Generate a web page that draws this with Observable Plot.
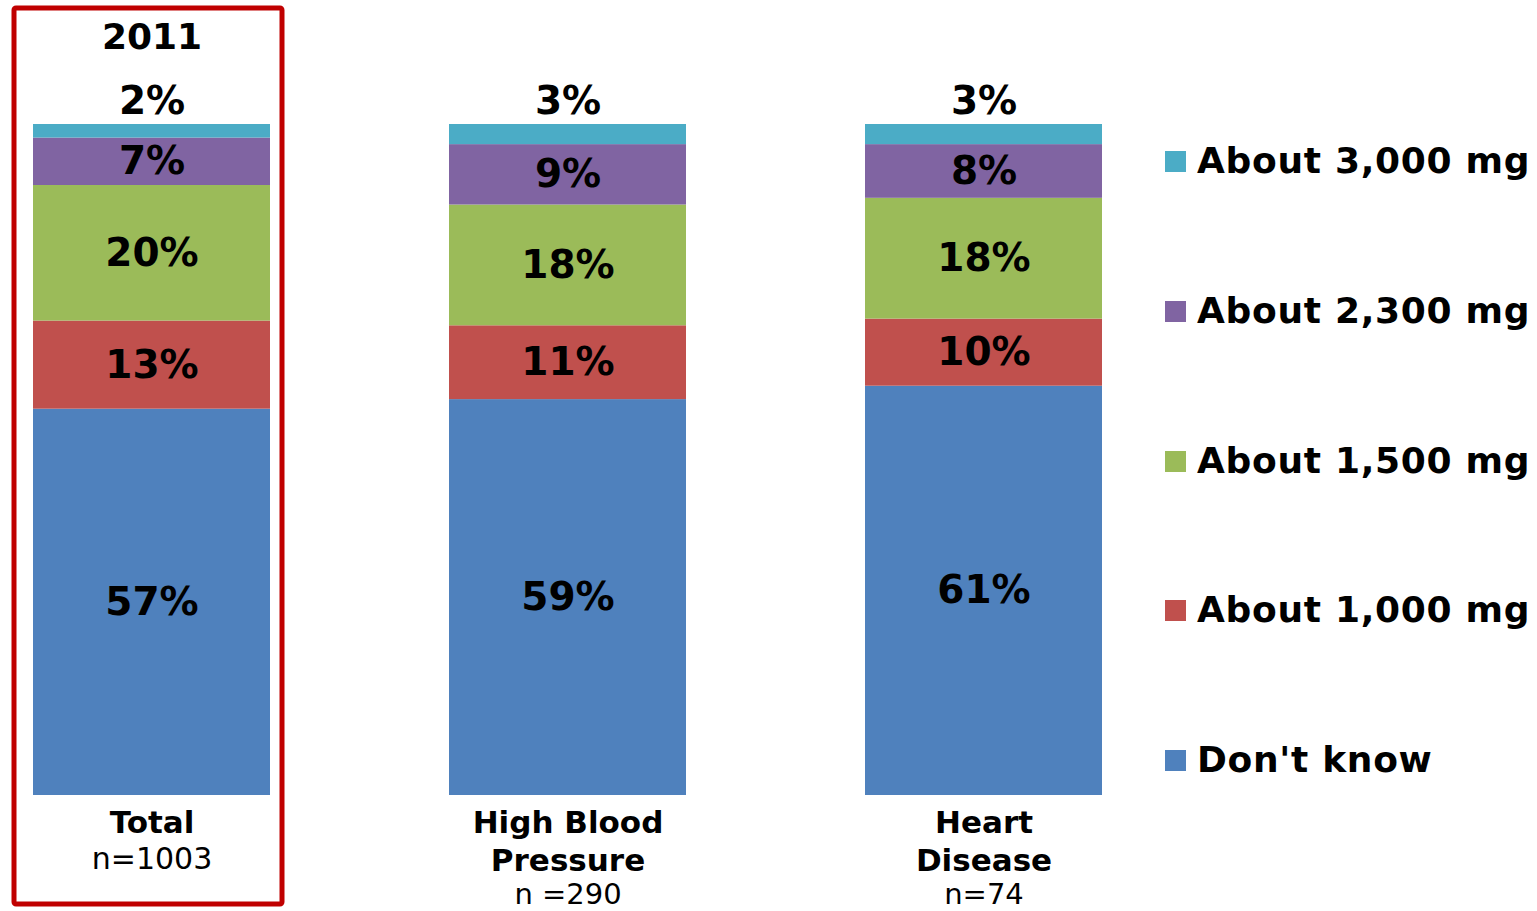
<!DOCTYPE html>
<html>
<head>
<meta charset="utf-8">
<script src="https://cdn.jsdelivr.net/npm/d3@7"></script>
<script src="https://cdn.jsdelivr.net/npm/@observablehq/plot@0.6"></script>
<style>
  html, body { margin: 0; padding: 0; background: #fff; }
  #wrap { position: relative; width: 1537px; height: 911px; overflow: hidden; font-family: "DejaVu Sans", Verdana, sans-serif; }
  #legend { position: absolute; left: 1165px; top: 0; }
  .item { position: absolute; left: 0; display: flex; align-items: center; white-space: nowrap; height: 40px; }
  .sw { width: 21px; height: 21px; margin-right: 11px; }
  .lab { font-weight: bold; font-size: 36px; color: #000; line-height: 40px; letter-spacing: 0.7px; }
</style>
</head>
<body>
<div id="wrap"></div>
<script>
// ---- data ----
const groups = ["Total", "High Blood Pressure", "Heart Disease"];
const groupNames = ["Total", "High Blood\nPressure", "Heart\nDisease"];
const groupN = ["n=1003", "n =290", "n=74"];
const categories = ["Don't know", "About 1,000 mg", "About 1,500 mg", "About 2,300 mg", "About 3,000 mg"];
const colors = ["#4F81BD", "#C0504D", "#9BBB59", "#8064A2", "#4BACC6"];
const totalValues = [57, 13, 20, 7, 2];
const hbpValues = [59, 11, 18, 9, 3];
const hdValues = [61, 10, 18, 8, 3];
const yearLabel = "2011";

const seriesByGroup = [totalValues, hbpValues, hdValues];
const data = [];
groups.forEach((g, gi) => {
  categories.forEach((c, ci) => data.push({group: g, category: c, value: seriesByGroup[gi][ci]}));
});
const topCat = categories[categories.length - 1];
const labelRows = groups.map((g, i) => ({group: g, name: groupNames[i], n: groupN[i], lines: groupNames[i].split("\n").length}));

const chart = Plot.plot({
  width: 1537,
  height: 911,
  marginTop: 124,
  marginBottom: 116,
  marginLeft: 32,
  marginRight: 434,
  x: {domain: groups, paddingInner: 0.43, paddingOuter: 0, axis: null},
  y: {domain: [0, 1], axis: null},
  color: {domain: categories, range: colors},
  style: {fontFamily: "DejaVu Sans, Verdana, sans-serif", background: "white", color: "black", overflow: "visible"},
  marks: [
    Plot.barY(data, Plot.stackY({x: "group", y: "value", fill: "category", offset: "normalize"})),
    Plot.text(data, Plot.stackY({
      x: "group", y: "value", z: "category", offset: "normalize",
      text: d => d.category === topCat ? null : d.value + "%",
      fontWeight: "bold", fontSize: 39, fill: "black"
    })),
    Plot.text(data.filter(d => d.category === topCat), {
      x: "group", text: d => d.value + "%", frameAnchor: "top", lineAnchor: "middle", dy: -23,
      fontWeight: "bold", fontSize: 39, fill: "black"
    }),
    Plot.text([groups[0]], {
      x: d => d, text: () => yearLabel, frameAnchor: "top", lineAnchor: "middle", dy: -87,
      fontWeight: "bold", fontSize: 36, fill: "black"
    }),
    // category labels
    Plot.text(labelRows, {
      x: "group", text: "name", frameAnchor: "bottom", lineAnchor: "top", dy: 10,
      lineHeight: 1.23, fontWeight: "bold", fontSize: 31, fill: "black"
    }),
    Plot.text(labelRows.filter(d => d.lines === 1), {
      x: "group", text: "n", frameAnchor: "bottom", lineAnchor: "top", dy: 52,
      fontSize: 30, fill: "black"
    }),
    Plot.text(labelRows.filter(d => d.lines === 2), {
      x: "group", text: "n", frameAnchor: "bottom", lineAnchor: "top", dy: 88,
      fontSize: 29, fill: "black"
    }),
    // red highlight box around the Total column
    Plot.barY([groups[0]], {
      x: d => d, y1: 0, y2: 1, fill: "none", stroke: "#C00000", strokeWidth: 5,
      insetLeft: -19, insetRight: -12, insetTop: -116, insetBottom: -109, rx: 2
    })
  ]
});

const wrap = document.getElementById("wrap");
wrap.appendChild(chart);

// legend (top category first)
const legend = document.createElement("div");
legend.id = "legend";
const legendCenters = [161, 311, 461, 610, 760];
categories.slice().reverse().forEach((c, i) => {
  const item = document.createElement("div");
  item.className = "item";
  item.style.top = (legendCenters[i] - 20) + "px";
  const sw = document.createElement("div");
  sw.className = "sw";
  sw.style.background = colors[categories.indexOf(c)];
  const lab = document.createElement("span");
  lab.className = "lab";
  lab.textContent = c;
  item.appendChild(sw);
  item.appendChild(lab);
  legend.appendChild(item);
});
wrap.appendChild(legend);
</script>
</body>
</html>
